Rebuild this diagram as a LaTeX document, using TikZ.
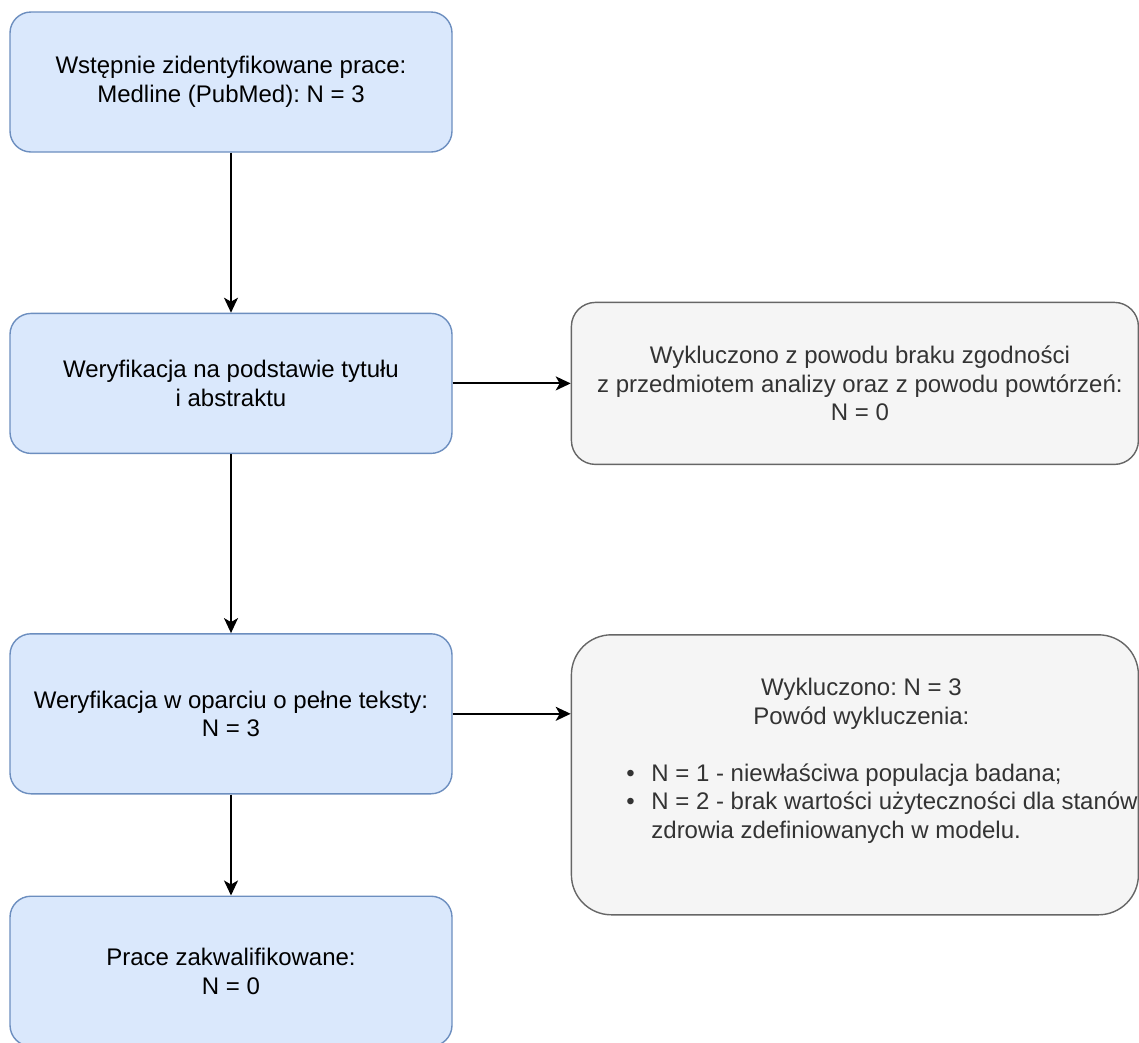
\documentclass[tikz,border=0pt]{standalone}
\usepackage{fontspec}
\setmainfont{Liberation Sans}
\frenchspacing
\usetikzlibrary{positioning,arrows.meta}
\definecolor{boxblue}{HTML}{DAE8FC}
\definecolor{lineblue}{HTML}{6C8EBF}
\definecolor{boxgrey}{HTML}{F5F5F5}
\definecolor{linegrey}{HTML}{666666}
\definecolor{textgrey}{HTML}{333333}

\begin{document}
\begin{tikzpicture}[x=1pt,y=-1pt,
	font=\fontsize{24}{28.5}\selectfont,
	stage/.style={draw=lineblue, fill=boxblue, line width=1.4pt, rounded corners=21pt, minimum width=442pt, align=center, inner sep=0pt},
	excl/.style={draw=linegrey, fill=boxgrey, line width=1.4pt, text=textgrey, minimum width=567pt, align=center, inner sep=0pt},
	flow/.style={line width=2pt, -{Stealth[length=15pt,width=14pt,inset=4pt]}}]
	\useasboundingbox (0,0) rectangle (1139,1042);

	\node[stage, minimum height=140pt] (id) at (231,82) {Wstępnie zidentyfikowane prace:\\Medline (PubMed): N = 3};
	\node[stage, minimum height=140pt, below=160pt of id] (tyt) {Weryfikacja na podstawie tytułu\\i abstraktu};
	\node[stage, minimum height=160pt, below=179pt of tyt] (pel) {Weryfikacja w oparciu o pełne teksty:\\N = 3};
	\node[stage, minimum height=150pt, below=101pt of pel] (kwal) {Prace zakwalifikowane:\\N = 0};

	\node[excl, minimum height=162pt, rounded corners=24pt, right=118pt of tyt] (wyk1)
		{\hspace*{10pt}Wykluczono z powodu braku zgodności\\\hspace*{10pt}z przedmiotem analizy oraz z powodu powtórzeń:\\\hspace*{10pt}N = 0};
	\node[excl, minimum height=280pt, rounded corners=40pt, anchor=north west] (wyk2) at ([xshift=118pt,yshift=-1pt]pel.north east)
		{\hspace*{3pt}\begin{minipage}{460pt}
			\centering
			\hspace*{10pt}Wykluczono: N = 3\\
			\hspace*{10pt}Powód wykluczenia:\par
			\vspace{28.5pt}
			\raggedright
			\mbox{\makebox[25pt][l]{\textbullet}N = 1 - niewłaściwa populacja badana;}\\
			\mbox{\makebox[25pt][l]{\textbullet}N = 2 - brak wartości użyteczności dla stanów}\\
			\mbox{\hspace*{25pt}zdrowia zdefiniowanych w modelu.}\par
			\vspace{28.5pt}
		\end{minipage}};

	\draw[flow] (id) -- (tyt);
	\draw[flow] (tyt) -- (pel);
	\draw[flow] (pel) -- (kwal);
	\draw[flow] (tyt) -- (wyk1);
	\draw[flow] (pel.east) -- (pel.east -| wyk2.west);
\end{tikzpicture}
\end{document}
